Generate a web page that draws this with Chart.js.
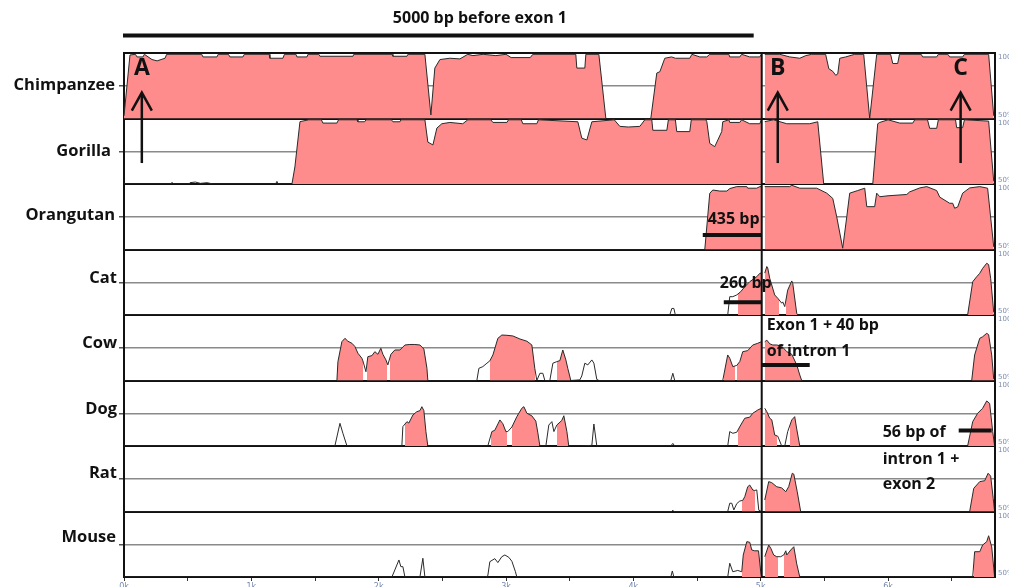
<!DOCTYPE html>
<html><head><meta charset="utf-8">
<script src="https://cdn.jsdelivr.net/npm/chart.js@4/dist/chart.umd.min.js"></script>
<style>html,body{margin:0;padding:0;background:#fff;}canvas{display:block;}</style>
</head><body>
<canvas id="c" width="1009" height="587" style="width:1009px;height:587px"></canvas>
<script>
// ---------- DATA (x = bp position, y = % identity; null = break between the two panels) ----------
const species = ['Chimpanzee','Gorilla','Orangutan','Cat','Cow','Dog','Rat','Mouse'];
const tickValues = [0,500,1000,1500,2000,2500,3000,3500,4000,4500,5000,5500,6000,6500];
const tickLabels = ['0k','1k','2k','3k','4k','5k','6k'];

const chimpanzee = [[0,52],[47,98.5],[90,99],[102,97],[149,97],[160,99],[220,95],[260,94],[322,96],[335,99],[610,99],[620,97],[730,97],[740,99],[820,99],[832,97],[934,97],[945,99],[1140,99],[1146,96],[1248,96],[1260,99],[1350,99],[1358,97],[1437,97],[1445,99],[1530,99],[1539,97.5],[1798,97.5],[1805,99],[2105,99],[2112,97.5],[2222,97.5],[2230,99],[2363,99],[2410,52.7],[2441,88.5],[2481,95],[2559,96],[2638,95.5],[2700,99],[2740,98],[2820,99],[2920,98],[3000,99],[3040,96.5],[3190,96.5],[3211,99],[3548,99],[3556,88.5],[3619,88.5],[3627,99],[3729,99],[3784,50],[4137,50],[4184,84.7],[4208,85.7],[4247,96],[4300,97],[4330,96],[4443,96],[4460,99],[4522,97],[4577,97],[4600,99],[4750,99],[4757,97],[4836,97],[4850,99],[4914,97],[4993,97],[5005,99],
  [5020,null],
  [5032,99],[5150,99],[5228,97],[5307,96],[5354,98],[5401,99],[5510,99],[5535,88],[5566,86],[5589,83],[5605,84],[5621,96],[5668,97],[5738,99],[5809,99],[5856,50],[5911,99],[6020,99],[6037,92],[6076,92],[6090,99],[6260,99],[6272,97],[6382,97],[6395,99],[6470,99],[6484,97],[6586,97],[6600,99],[6790,99],[6830,52]];
const gorilla = [[0,50],[370,50],[377,51.3],[390,50],[510,50],[518,51],[560,51.5],[600,50.5],[652,51],[700,50],[1190,50],[1201,52],[1210,50],[1319,50],[1342,63],[1382,97.6],[1450,99],[1550,99],[1562,96.5],[1672,96.5],[1685,99],[1830,99],[1837,97.5],[1890,97.5],[1900,99],[2100,99],[2112,97.5],[2167,97.5],[2175,99],[2363,99],[2386,82],[2426,79.8],[2457,92.7],[2496,96],[2559,97],[2660,96],[2700,99],[2880,99],[2897,97],[3007,97],[3020,99],[3120,99],[3132,96],[3242,96],[3255,99],[3564,97.5],[3595,85],[3635,83.6],[3674,97.5],[3850,99],[3894,94],[3960,93.5],[4051,94],[4090,99],[4145,99],[4153,91],[4263,91],[4275,99],[4330,99],[4341,90],[4443,90],[4455,99],[4570,99],[4577,97.5],[4600,81],[4639,78.5],[4694,90],[4702,97.5],[4750,99],[4757,97],[4836,97],[4850,99],[4914,96],[4993,96],[5005,99],
  [5020,null],
  [5032,97.6],[5100,99],[5205,96],[5385,96],[5448,97.5],[5495,50],[5880,50],[5919,96],[5935,97],[6000,99],[6092,96.5],[6194,96.5],[6210,99],[6310,99],[6327,92.5],[6382,92.5],[6395,99],[6530,99],[6539,93],[6586,93],[6600,99],[6790,98],[6830,52]];
const orangutan = [[0,50],[4561,50],[4600,92.9],[4624,95.4],[4679,94.6],[4734,94.6],[4757,96.5],[4812,98],[4891,98],[4898,96.8],[4969,96.8],[4993,98],[5005,98],
  [5020,null],
  [5032,98],[5228,98],[5244,99],[5307,96.8],[5440,96.8],[5519,93],[5566,89],[5597,75],[5644,51],[5676,75],[5699,93],[5762,95],[5817,96.8],[5833,82.7],[5895,82.7],[5911,93],[5935,90.3],[6000,91],[6147,92],[6170,94],[6249,97],[6304,98],[6382,95],[6406,90],[6484,85.3],[6508,85.3],[6523,81.5],[6547,82.5],[6586,93],[6641,97],[6720,98],[6782,96.8],[6830,52]];
const cat = [[0,50],[4286,50],[4302,55],[4318,55],[4330,50],[4741,50],[4757,64],[4781,64],[4812,65.3],[4843,67.8],[4875,71.6],[4914,75.4],[4969,79.2],[4993,81.8],[5005,82],
  [5020,null],
  [5032,82],[5048,87],[5055,86],[5071,78],[5110,65.3],[5134,62.8],[5165,59],[5173,60],[5189,56.4],[5212,69],[5244,76],[5252,74],[5283,51.3],[5291,50],[6625,50],[6665,75.4],[6696,79.2],[6720,81.8],[6743,85.6],[6775,89.5],[6790,88.5],[6806,78],[6830,52]];
const cow = [[0,50],[1672,50],[1680,64.4],[1711,79.6],[1735,82.2],[1758,80],[1790,78.4],[1813,76],[1837,70.8],[1868,67],[1876,65],[1900,56.7],[1915,68.2],[1947,69],[1970,72],[1994,70],[2017,74.6],[2033,70],[2057,65.7],[2072,61.9],[2096,70],[2127,73.3],[2167,73.3],[2206,77.1],[2245,77.5],[2284,77.5],[2324,77.1],[2355,74],[2379,59.3],[2386,50],[2771,50],[2787,59.3],[2818,60.6],[2850,63.2],[2873,65],[2897,69.5],[2936,82.2],[2967,84.7],[3007,84.5],[3054,84],[3109,81.7],[3164,80],[3203,77.1],[3226,59.3],[3242,50],[3266,55.5],[3289,55.5],[3305,50],[3344,50],[3368,63.2],[3399,64.4],[3423,65.2],[3446,73.3],[3470,65.7],[3485,59.3],[3509,50],[3580,50.5],[3595,53.5],[3619,63.2],[3642,61.9],[3674,65.7],[3690,63.2],[3713,50.8],[3730,50],[4294,50],[4310,55.5],[4325,50],[4702,50],[4741,69.5],[4757,67],[4781,60.6],[4812,61.5],[4836,64.5],[4859,72],[4898,72.8],[4938,77.1],[4977,78.4],[5005,79.6],
  [5020,null],
  [5032,79.6],[5048,80.8],[5071,78],[5095,77.1],[5126,77.1],[5165,76.2],[5205,72],[5244,70],[5283,61.9],[5307,54.2],[5322,50],[6657,50],[6680,69.5],[6720,82.2],[6743,83.4],[6775,86],[6790,85],[6814,69.5],[6830,51]];
const dog = [[0,50],[1656,50],[1696,67.3],[1719,59.7],[1751,50],[2182,50],[2190,64.8],[2222,68.6],[2237,67.5],[2269,73.7],[2300,76.2],[2324,77],[2339,80],[2355,77],[2371,61],[2386,50],[2857,50],[2889,61],[2912,62],[2952,69.9],[2975,67],[2999,61],[3014,61],[3046,64.5],[3085,72.4],[3124,78.8],[3140,80],[3164,75],[3203,73],[3234,69],[3250,60],[3266,50],[3313,50],[3336,66],[3360,68.6],[3376,61],[3399,66],[3438,69.5],[3454,73.1],[3478,61],[3493,50],[3580,50],[3674,50.5],[3690,66.8],[3713,50],[4294,50],[4310,52],[4325,50],[4741,50],[4757,61],[4781,59.7],[4812,60.5],[4843,66],[4875,71.2],[4914,72],[4938,75],[4977,77.5],[5005,78.8],
  [5020,null],
  [5032,78.8],[5048,76.2],[5071,71.2],[5087,70],[5110,58.4],[5134,57.5],[5165,50],[5189,50],[5212,61],[5244,69.9],[5267,72.4],[5283,63],[5307,50],[6625,50],[6665,68.6],[6704,75],[6743,78.8],[6775,84.4],[6798,82.5],[6822,61],[6837,50]];
const rat = [[0,50],[4300,50],[4310,51],[4318,50],[4741,50],[4757,56.3],[4773,56.3],[4789,51.2],[4812,56],[4836,58],[4859,58.5],[4875,61.3],[4898,68.9],[4914,70.2],[4938,66.4],[4953,66],[4969,66.5],[4985,51],[5005,50],
  [5020,null],
  [5032,58.8],[5063,72.8],[5087,72],[5126,68.9],[5165,68],[5197,65.1],[5220,69],[5248,79.2],[5260,78.5],[5287,65.1],[5314,50],[6641,50],[6673,67.7],[6720,72.8],[6759,73.5],[6786,79.2],[6806,77],[6826,60],[6837,50]];
const mouse = [[0,50],[2080,50],[2104,50],[2127,55.4],[2159,63],[2174,57.9],[2190,57.9],[2206,50],[2324,50],[2347,64.3],[2363,50],[2840,50],[2857,51],[2873,61.7],[2912,64],[2936,61],[2967,65.5],[2991,66.8],[3022,65],[3046,62],[3074,54],[3085,50],[4294,50],[4306,54.6],[4318,50],[4741,50],[4757,60.5],[4781,54],[4820,55],[4851,54],[4863,66.8],[4891,77],[4914,76.5],[4930,70.6],[4953,70],[4983,70],[5000,54],[5008,50],
  [5020,null],
  [5032,65.5],[5063,74.4],[5079,72],[5102,66.8],[5126,65.5],[5157,65.5],[5181,66.8],[5197,70],[5205,66.8],[5236,70.6],[5260,73.1],[5283,60],[5307,50],[6665,50],[6680,69.3],[6720,69.3],[6743,74.4],[6775,77],[6790,81.5],[6814,73],[6837,50]];

// conserved (pink) regions, bp intervals
const chimpanzeeFill = [[0,5010],[5025,6840]];
const gorillaFill = [[1320,5010],[5025,5500],[5875,6840]];
const orangutanFill = [[4550,5010],[5025,6840]];
const catFill = [[4820,5010],[5025,5145],[5200,5295],[6620,6840]];
const cowFill = [[1672,1876],[1908,2065],[2088,2386],[2873,3226],[3399,3501],[4710,4796],[4812,5010],[5025,5322],[6660,6840]];
const dogFill = [[2206,2379],[2881,3007],[3046,3258],[3399,3485],[4820,5010],[5025,5126],[5228,5307],[6630,6840]];
const ratFill = [[4851,4955],[5025,5320],[6645,6840]];
const mouseFill = [[4855,5000],[5025,5134],[5181,5307],[6675,6840]];

const series = [chimpanzee,gorilla,orangutan,cat,cow,dog,rat,mouse];
const fills = [chimpanzeeFill,gorillaFill,orangutanFill,catFill,cowFill,dogFill,ratFill,mouseFill];

// ---------- STYLE ----------
const PINK = '#ff8c8c';
const CLEAR = 'rgba(255,255,255,0)';
const labelOffsets = [0,0,-1,-4,-4,-4,-5,-7];
const labelPads = [4,8,4,2,2,2,2,3];

function fillGradient(c){
  const chart = c.chart, area = chart.chartArea;
  if (!area || !chart.scales.x) return PINK;
  const xs = chart.scales.x;
  const g = chart.ctx.createLinearGradient(area.left,0,area.right,0);
  const w = area.right - area.left;
  const f = v => Math.min(1, Math.max(0, (xs.getPixelForValue(v) - area.left) / w));
  g.addColorStop(0, CLEAR);
  for (const [a,b] of fills[c.datasetIndex]) {
    const pa = f(a), pb = f(b);
    g.addColorStop(pa, CLEAR); g.addColorStop(pa, PINK);
    g.addColorStop(pb, PINK); g.addColorStop(pb, CLEAR);
  }
  g.addColorStop(1, CLEAR);
  return g;
}

const datasets = series.map((s,i) => ({
  label: species[i],
  data: s.map(p => ({x:p[0], y:p[1]})),
  yAxisID: 'y'+i,
  borderColor: '#2a2a2a',
  borderWidth: 1,
  pointRadius: 0,
  tension: 0,
  spanGaps: false,
  fill: 'start',
  backgroundColor: fillGradient
}));

const scales = {
  x: {
    type:'linear', position:'bottom', min:0, max:6840,
    afterBuildTicks: s => { s.ticks = tickValues.map(v => ({value:v})); },
    afterFit: s => { s.height = 10; },
    ticks: { callback: v => (v % 1000 === 0 ? tickLabels[v/1000] : ''), autoSkip:false, maxRotation:0,
             font:{family:'DejaVu Sans', size:8}, color:'#7488b0', padding:1 },
    grid: { drawOnChartArea:false, tickLength:4, color:'#333', lineWidth:1 },
    border: { display:true, color:'#111', width:2 }
  }
};
for (let i = species.length - 1; i >= 0; i--) {
  scales['y'+i] = {
    type:'linear', position:'left', stack:'rows', stackWeight:1, min:50, max:100, offset:false,
    afterBuildTicks: s => { s.ticks = [{value:50},{value:75},{value:100}]; },
    afterFit: s => { s.width = 124; s.paddingTop = 0; s.paddingBottom = 0; },
    ticks: { callback: v => (v === 75 ? species[i] : ''), autoSkip:false,
             font:{family:'Open Sans', weight:'bold', size:16.5}, color:'#111',
             padding: labelPads[i], labelOffset: labelOffsets[i] },
    grid: { color: c => (c.tick && c.tick.value === 75 ? '#8a8a8a' : '#111'),
            lineWidth: c => (c.tick && c.tick.value === 75 ? 1.5 : 2),
            tickColor: c => (c.tick && c.tick.value === 75 ? '#555' : 'rgba(0,0,0,0)'),
            tickLength:5, drawTicks:true },
    border: { display:true, color:'#111', width:2 }
  };
}

// ---------- ANNOTATIONS ----------
const arrows = [ {label:'A', x:140}, {label:'B', x:5134}, {label:'C', x:6570} ];
const notes = [
  {lines:['435 bp'], x:4584, row:2, y:[73.3], bar:[4545,5008], barY:61.1},
  {lines:['260 bp'], x:4679, row:3, y:[74], bar:[4710,5008], barY:59.7},
  {lines:['Exon 1 + 40 bp','of intron 1'], x:5048, row:4, y:[92,72.5], bar:[5008,5385], barY:61.9},
  {lines:['56 bp of'], x:5958, row:5, y:[60], bar:[6555,6814], barY:61.9},
  {lines:['intron 1 +','exon 2'], x:5958, row:6, y:[90,70.6]}
];

const annot = {
  id:'annot',
  afterDraw(chart){
    const {ctx, chartArea:a, scales:sc} = chart;
    const X = v => sc.x.getPixelForValue(v);
    const Y = (r,v) => sc['y'+r].getPixelForValue(v);
    ctx.save();
    // right border & panel separator
    ctx.fillStyle = '#111';
    ctx.fillRect(a.right-1, a.top-1, 2, a.bottom-a.top+2);
    ctx.fillRect(X(5008)-1, a.top-1, 2, a.bottom-a.top+2);
    // small 100% / 50% labels at right
    ctx.font = '7px "DejaVu Sans"'; ctx.fillStyle = '#7c8cb0';
    ctx.textAlign = 'left'; ctx.textBaseline = 'middle';
    species.forEach((s,i) => {
      ctx.fillText('100%', a.right+3, Y(i,100)+4.5);
      ctx.fillText('50%', a.right+3, Y(i,50)-3.5);
    });
    // title + bar
    ctx.fillStyle = '#111';
    ctx.font = 'bold 16px "Open Sans"'; ctx.textAlign = 'center';
    ctx.fillText('5000 bp before exon 1', X(2795), a.top-35);
    ctx.strokeStyle = '#111'; ctx.lineWidth = 4; ctx.lineCap = 'butt';
    ctx.beginPath(); ctx.moveTo(X(0)-1, a.top-17.5); ctx.lineTo(X(4945), a.top-17.5); ctx.stroke();
    // arrows
    ctx.lineWidth = 2.5; ctx.lineJoin = 'miter';
    ctx.font = 'bold 23px "Open Sans"';
    for (const ar of arrows) {
      const x = X(ar.x), tip = Y(0,69.7), bot = Y(1,66);
      ctx.beginPath(); ctx.moveTo(x, bot); ctx.lineTo(x, tip+1); ctx.stroke();
      ctx.beginPath(); ctx.moveTo(x-10, tip+18); ctx.lineTo(x, tip); ctx.lineTo(x+10, tip+18); ctx.stroke();
      ctx.textAlign = 'center';
      ctx.fillText(ar.label, x, Y(0,88));
    }
    // notes
    ctx.font = 'bold 16px "Open Sans"'; ctx.textAlign = 'left';
    ctx.lineWidth = 4;
    for (const n of notes) {
      if (n.bar) {
        ctx.beginPath(); ctx.moveTo(X(n.bar[0]), Y(n.row,n.barY)); ctx.lineTo(X(n.bar[1]), Y(n.row,n.barY)); ctx.stroke();
      }
      n.lines.forEach((t,k) => ctx.fillText(t, X(n.x), Y(n.row, n.y[k])));
    }
    ctx.restore();
  }
};

new Chart(document.getElementById('c'), {
  type:'line',
  data:{ datasets },
  options:{
    responsive:false, animation:false, events:[],
    layout:{ padding:{ left:0, right:14, top:53, bottom:0 } },
    scales,
    plugins:{ legend:{display:false}, tooltip:{enabled:false}, title:{display:false} }
  },
  plugins:[annot]
});
</script>
</body></html>
